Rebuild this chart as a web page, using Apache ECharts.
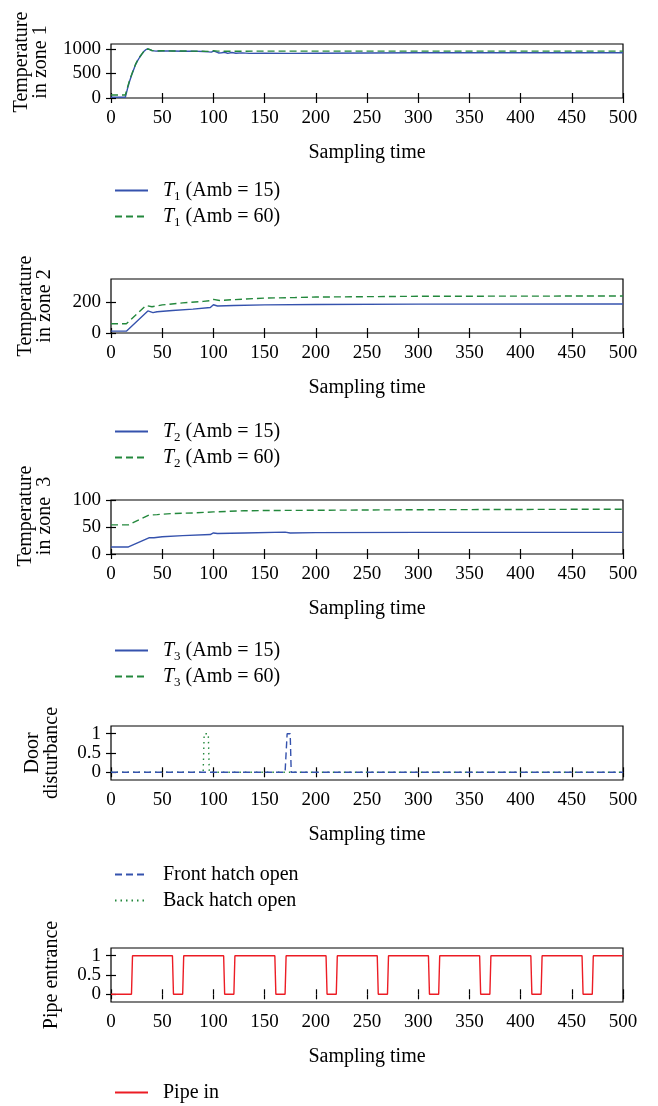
<!DOCTYPE html>
<html>
<head>
<meta charset="utf-8">
<script src="https://cdn.jsdelivr.net/npm/echarts@6/dist/echarts.min.js"></script>
<style>
html, body { margin: 0; padding: 0; background: #fff; }
#chart { width: 658px; height: 1106px; }
</style>
</head>
<body>
<div id="chart"></div>
<script>
// values, [sampling time, value]
const t1Amb15 = [[0,15],[14,15],[16,180],[18,330],[20,460],[22,570],[24,680],[26,760],[28,830],[30,890],[32,945],[34,985],[36,1000],[38,985],[40,965],[44,955],[48,962],[52,956],[60,958],[70,952],[80,955],[90,948],[95,940],[98,935],[100,955],[102,945],[105,918],[108,922],[111,932],[114,908],[118,926],[122,912],[128,920],[135,910],[150,915],[175,910],[200,913],[300,922],[400,922],[500,922]];
const t1Amb60 = [[0,60],[14,60],[16,210],[18,350],[20,470],[22,580],[24,690],[26,770],[28,835],[30,895],[32,948],[34,985],[36,998],[38,985],[40,968],[45,958],[50,962],[60,958],[80,955],[95,950],[100,962],[104,955],[110,952],[150,955],[300,955],[500,955]];

const t2Amb15 = [[0,12],[15,12],[36,143],[41,132],[45,138],[60,146],[80,155],[97,165],[100,183],[104,175],[120,178],[150,182],[200,185],[300,187],[500,188]];
const t2Amb60 = [[0,60],[15,60],[34,178],[40,170],[50,182],[70,195],[90,205],[97,210],[100,218],[106,211],[130,220],[150,226],[180,230],[200,233],[300,238],[500,240]];

const t3Amb15 = [[0,13],[17,13],[37,30],[42,30],[50,32],[70,34],[97,36],[100,39],[104,38],[130,39],[170,40.5],[175,39],[200,39.5],[300,40],[500,40]];
const t3Amb60 = [[0,54],[17,54],[37,72],[45,73],[60,75],[80,76],[100,78],[130,80],[150,80.5],[200,81],[300,82],[500,83]];

const frontHatch = [[0,0],[170,0],[172,1],[175,1],[176,0],[500,0]];
const backHatch = [[0,0],[90,0],[91,1],[95,1],[96,0],[500,0]];

const pipeIn = [[0,0],[20,0],[21,1],[60,1],[61,0],[70,0],[71,1],[110,1],[111,0],[120,0],[121,1],[160,1],[161,0],[170,0],[171,1],[210,1],[211,0],[220,0],[221,1],[260,1],[261,0],[270,0],[271,1],[310,1],[311,0],[320,0],[321,1],[360,1],[361,0],[370,0],[371,1],[410,1],[411,0],[420,0],[421,1],[460,1],[461,0],[470,0],[471,1],[500,1]];

const yTicks1 = [0, 500, 1000];
const yTicks2 = [0, 200];
const yTicks3 = [0, 50, 100];
const yTicks01 = [0, 0.5, 1];

const FONT = '"Liberation Serif", "Times New Roman", serif';
const BLUE = '#3552ad';
const GREEN = '#23883c';
const RED = '#ec1c24';

let grids = [], xAxes = [], yAxes = [], series = [], legends = [];

function panel(i, top, yMin, yMax, ticks, yName, nameGap, namePad) {
    grids.push({left: 111, width: 512, top: top, height: 54, show: true,
        borderColor: '#000', borderWidth: 1.2, backgroundColor: 'transparent'});
    const tick = {show: true, inside: true, length: 5, lineStyle: {color: '#000', width: 1.2}};
    xAxes.push({gridIndex: i, type: 'value', min: 0, max: 500, interval: 50,
        axisLine: {show: false}, axisTick: tick, splitLine: {show: false},
        axisLabel: {color: '#000', fontFamily: FONT, fontSize: 19, margin: 11},
        name: 'Sampling time', nameLocation: 'middle', nameGap: 45,
        nameTextStyle: {color: '#000', fontFamily: FONT, fontSize: 20}});
    xAxes.push({gridIndex: i, type: 'value', position: 'top', min: 0, max: 500, interval: 50,
        axisLine: {show: false}, axisTick: tick, splitLine: {show: false}, axisLabel: {show: false}});
    yAxes.push({gridIndex: i, type: 'value', min: yMin, max: yMax,
        axisLine: {show: false}, splitLine: {show: false},
        axisTick: Object.assign({customValues: ticks}, tick),
        axisLabel: {customValues: ticks, formatter: v => String(v),
            color: '#000', fontFamily: FONT, fontSize: 19, margin: 10},
        name: yName, nameLocation: 'middle', nameRotate: 90, nameGap: nameGap,
        nameTextStyle: {color: '#000', fontFamily: FONT, fontSize: 20, lineHeight: 19,
            padding: namePad || 0}});
    yAxes.push({gridIndex: i, type: 'value', position: 'right', min: yMin, max: yMax,
        axisLine: {show: false}, splitLine: {show: false},
        axisTick: Object.assign({customValues: ticks}, tick),
        axisLabel: {show: false}});
}

function line(i, name, data, color, type) {
    series.push({type: 'line', name: name, data: data, xAxisIndex: 2 * i, yAxisIndex: 2 * i,
        symbol: 'none', lineStyle: {color: color, width: 1.4, type: type}, itemStyle: {color: color}});
}

function legend(names, top) {
    legends.push({data: names, orient: 'vertical', left: 114, top: top, padding: 0,
        itemWidth: 33, itemHeight: 4, itemGap: 1, itemStyle: {opacity: 0},
        formatter: n => n.replace(/^T(\d)/, '{it|T}{sub|$1}'),
        textStyle: {color: '#000', fontFamily: FONT, fontSize: 20, lineHeight: 25, padding: [0, 0, 0, 10],
            rich: {it: {fontStyle: 'italic', fontFamily: FONT, fontSize: 20},
                   sub: {fontFamily: FONT, fontSize: 13, verticalAlign: 'bottom', lineHeight: 14}}}});
}

panel(0, 44, 0, 1100, yTicks1, 'Temperature\nin zone 1', 61, [0, 0, 0, 18]);
panel(1, 279, 0, 350, yTicks2, 'Temperature\nin zone 2', 57);
panel(2, 500, 0, 100, yTicks3, 'Temperature\nin zone  3', 57, [0, 0, 0, 22]);
panel(3, 726, -0.2, 1.2, yTicks01, 'Door\ndisturbance', 50);
panel(4, 948, -0.2, 1.2, yTicks01, 'Pipe entrance', 50);

line(0, 'T1 (Amb = 15)', t1Amb15, BLUE, 'solid');
line(0, 'T1 (Amb = 60)', t1Amb60, GREEN, [7, 4]);
line(1, 'T2 (Amb = 15)', t2Amb15, BLUE, 'solid');
line(1, 'T2 (Amb = 60)', t2Amb60, GREEN, [7, 4]);
line(2, 'T3 (Amb = 15)', t3Amb15, BLUE, 'solid');
line(2, 'T3 (Amb = 60)', t3Amb60, GREEN, [7, 4]);
line(3, 'Back hatch open', backHatch, GREEN, [1.5, 4]);
line(3, 'Front hatch open', frontHatch, BLUE, [7, 4]);
line(4, 'Pipe in', pipeIn, RED, 'solid');

legend(['T1 (Amb = 15)', 'T1 (Amb = 60)'], 178);
legend(['T2 (Amb = 15)', 'T2 (Amb = 60)'], 419);
legend(['T3 (Amb = 15)', 'T3 (Amb = 60)'], 638);
legend(['Front hatch open', 'Back hatch open'], 862);
legend(['Pipe in'], 1080);

const chart = echarts.init(document.getElementById('chart'), null, {renderer: 'canvas'});
chart.setOption({
    animation: false,
    backgroundColor: '#fff',
    grid: grids, xAxis: xAxes, yAxis: yAxes, series: series, legend: legends
});
</script>
</body>
</html>
